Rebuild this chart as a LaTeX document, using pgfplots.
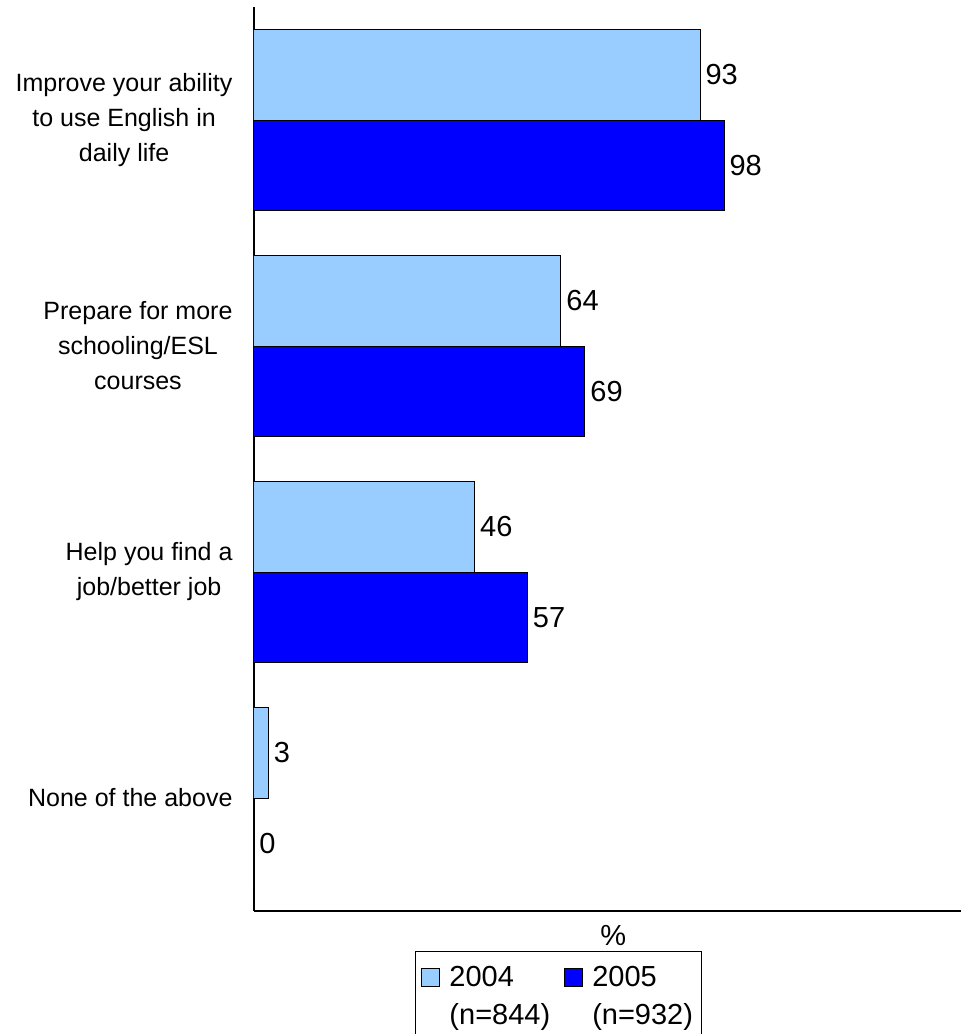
\documentclass[border=0pt]{standalone}
\usepackage{fontspec}
\setmainfont{Liberation Sans}
\usepackage{pgfplots}
\pgfplotsset{compat=1.18}
\definecolor{lightb}{HTML}{99CCFF}
\definecolor{darkb}{HTML}{0000FF}
\begin{document}
\begin{tikzpicture}
\path[use as bounding box] (0,0) rectangle (961pt,-1034pt);
\begin{axis}[
  at={(254pt,-7pt)}, anchor=north west,
  scale only axis, width=707pt, height=904pt,
  xbar, bar width=0.4,
  xmin=0, xmax=147.4,
  ymin=-0.5, ymax=3.5, y dir=reverse,
  axis x line*=bottom, axis y line*=left,
  axis line style={line width=1.5pt, -},
  xtick=\empty, ytick={0,1,2,3},
  major tick length=0pt,
  yticklabels={{Improve your ability\\to use English in\\daily life},
               {Prepare for more\\schooling/ESL\\courses},
               {Help you find a\\job/better job},
               {None of the above}},
  yticklabel style={align=center, font=\fontsize{25}{35}\selectfont, xshift=-18pt},
  /pgf/number format/assume math mode=true,
  point meta=x,
  nodes near coords,
  nodes near coords style={font=\fontsize{29}{32}\selectfont, anchor=west, inner sep=5pt},
  xlabel={\%},
  xlabel style={at={(axis description cs:0.508,0)}, anchor=center, yshift=-25pt, font=\fontsize{29}{32}\selectfont},
  legend columns=2,
  legend cell align=left,
  legend image code/.code={\draw[#1, draw=black, line width=1pt] (0pt,-9pt) rectangle (18pt,9pt);},
  legend style={at={(0.2277,-0.0443)}, anchor=north west, draw=black, line width=1pt,
    font=\fontsize{29}{32}\selectfont,
    /tikz/every odd column/.append style={column sep=7pt},
    /tikz/every even column/.append style={column sep=12pt},
    inner xsep=6pt, inner ysep=13pt, row sep=11pt},
]
\addplot[fill=lightb, draw=black, line width=1pt, bar shift=-0.2] coordinates {(93,0) (64,1) (46,2) (3,3)};
\addlegendentry{2004}
\addplot[fill=darkb, draw=black, line width=1pt, bar shift=0.2] coordinates {(98,0) (69,1) (57,2) (0,3)};
\addlegendentry{2005}
\addlegendimage{empty legend}
\addlegendentry{(n=844)}
\addlegendimage{empty legend}
\addlegendentry{(n=932)}
\end{axis}
\end{tikzpicture}
\end{document}
